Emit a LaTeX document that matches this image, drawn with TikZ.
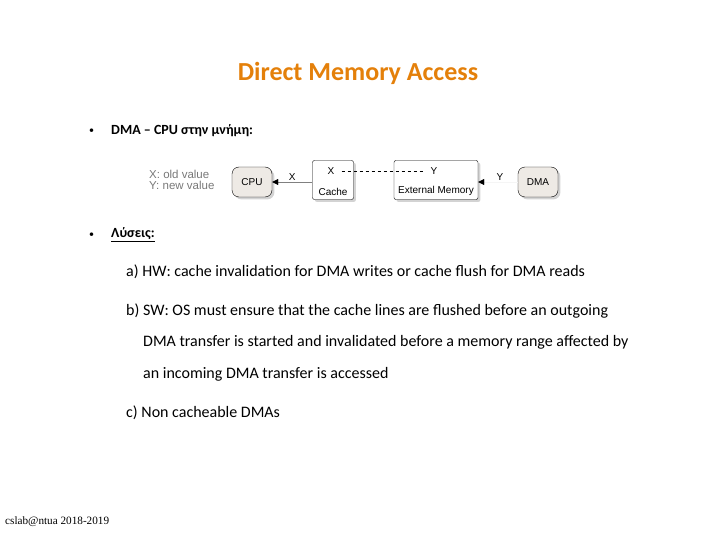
\documentclass[tikz,border=0pt]{standalone}
\usepackage{fontspec}
\setmainfont{Carlito}
\newfontfamily\diagfont{Liberation Sans}
\newfontfamily\footfont{Liberation Serif}
\usetikzlibrary{arrows.meta,positioning,shadows}

\definecolor{titleorange}{RGB}{228,128,10}
\definecolor{unitfill}{RGB}{238,234,229}
\definecolor{legendgray}{RGB}{120,120,120}

\tikzset{
  unit/.style={draw, rounded corners=7pt, fill=unitfill, minimum width=40pt, minimum height=30pt,
    font=\diagfont\fontsize{10}{11}\selectfont, drop shadow={opacity=0.35}},
  memblock/.style={draw, rounded corners=2pt, fill=white, minimum height=39pt,
    drop shadow={opacity=0.35}},
  small/.style={font=\diagfont\fontsize{10}{11}\selectfont, inner sep=1pt},
  bodytext/.style={anchor=west, font=\fontsize{16}{19}\selectfont, inner sep=0pt},
  bullettext/.style={anchor=west, inner sep=0pt, font=\bfseries\fontsize{14}{17}\selectfont},
  tip/.style={-{Triangle[black, length=6pt, width=6pt]}},
}

\begin{document}
\begin{tikzpicture}[x=1pt, y=-1pt, >=Triangle]
  \useasboundingbox (0,0) rectangle (720,540);

  % title
  \node[font=\bfseries\fontsize{26}{30}\selectfont, text=titleorange] (title) at (358,73) {Direct Memory Access};

  % first bullet
  \node[anchor=west, inner sep=0pt] (b1dot) at (89,131) {\textbullet};
  \node[bullettext] (b1) at (111,131) {DMA – CPU στην μνήμη:};

  % the picture
  \node[small, anchor=west, align=left, text=legendgray, font=\diagfont\fontsize{11.5}{11}\selectfont] (legend) at (148,180) {X: old value\\Y: new value};
  \node[unit] (cpu) at (252,182) {CPU};
  \node[memblock, minimum width=41pt] (cache) at (333,180) {};
  \node[memblock, minimum width=84pt] (extmem) at (436,180) {};
  \node[unit] (dma) at (538,182) {DMA};

  \node[small] (cx) at (331,171) {X};
  \node[small] (cname) at (333,192) {Cache};
  \node[small] (ey) at (434,171) {Y};
  \node[small] (ename) at (436,191) {External Memory};
  \draw[dashed] (cx.east) ++(6,0) -- ([xshift=-5pt]ey.west);

  \draw[tip, gray] (cache.west |- cpu) -- node[small, above, text=black] {X} (cpu);
  \draw[tip, gray!8] (dma) -- node[small, above, pos=0.45, text=black] {Y} (extmem.east |- dma);

  % second bullet
  \node[anchor=west, inner sep=0pt] (b2dot) at (89,235) {\textbullet};
  \node[bullettext] (b2) at (111,235) {\underline{Λύσεις:}};

  \node[bodytext] (la) at (126,272) {a) HW: cache invalidation for DMA writes or cache flush for DMA reads};
  \node[bodytext] (lb1) at (126,311) {b) SW: OS must ensure that the cache lines are flushed before an outgoing};
  \node[bodytext] (lb2) at (143,342) {DMA transfer is started and invalidated before a memory range affected by};
  \node[bodytext] (lb3) at (143,374) {an incoming DMA transfer is accessed};
  \node[bodytext] (lc) at (126,413) {c) Non cacheable DMAs};

  % footer
  \node[anchor=west, inner sep=0pt, font=\footfont\fontsize{11.2}{13}\selectfont] (foot) at (5,522) {cslab@ntua 2018-2019};
\end{tikzpicture}
\end{document}
